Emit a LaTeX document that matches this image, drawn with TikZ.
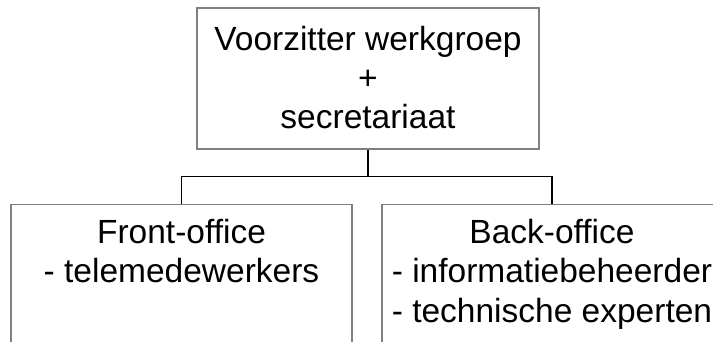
\documentclass[tikz,border=0pt]{standalone}
\usepackage{fontspec}
\setmainfont{Liberation Sans}
\tikzset{
  x=1pt, y=-1pt,
  orgbox/.style={draw=black!50, line width=1.3pt, rectangle, inner sep=0pt},
  linetext/.style={anchor=base, inner sep=0pt, font=\fontsize{33.5}{40}\selectfont},
  link/.style={draw=black, line width=1.1pt}
}
\begin{document}
\begin{tikzpicture}
  \useasboundingbox (0,0) rectangle (713,341);
  \begin{scope}
    \clip (0,0) rectangle (713,341);
    % top box: chair of the working group and secretariat
    \node[orgbox, minimum width=342pt, minimum height=141pt] (top) at (368,78.5) {};
    \node[linetext] (t1) at (368,50) {Voorzitter werkgroep};
    \node[linetext] (t2) at (368,89) {+};
    \node[linetext] (t3) at (368,128) {secretariaat};

    % front office box (runs past the lower edge)
    \node[orgbox, minimum width=341pt, minimum height=200pt, anchor=north] (fo) at (181.5,204) {};
    \node[linetext] (f1) at (181.5,243) {Front-office};
    \node[linetext] (f2) at (181.5,282) {- telemedewerkers};

    % back office box (runs past the right and lower edges)
    \node[orgbox, minimum width=340pt, minimum height=200pt, anchor=north] (bo) at (552,204) {};
    \node[linetext] (b1) at (552,243) {Back-office};
    \node[linetext] (b2) at (552,282) {- informatiebeheerder};
    \node[linetext] (b3) at (552,322) {- technische experten};

    % tree connectors
    \coordinate (fork) at ([yshift=-27pt]top.south);
    \draw[link] (top.south) -- (fork);
    \draw[link] (fork) -| (fo.north);
    \draw[link] (fork) -| (bo.north);
  \end{scope}
\end{tikzpicture}
\end{document}
